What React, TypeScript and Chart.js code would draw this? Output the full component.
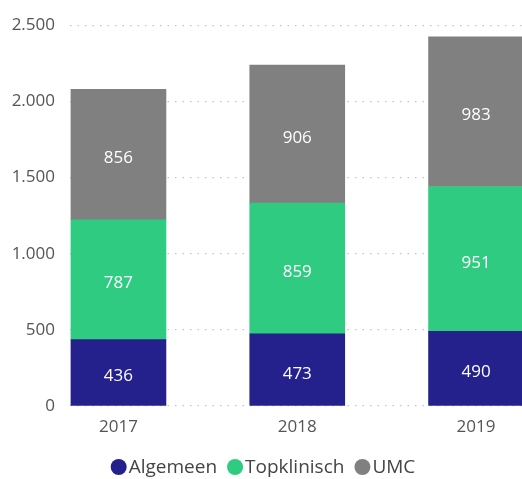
import React, { useEffect, useRef } from "react";
import { Chart, registerables } from "chart.js";

Chart.register(...registerables);

const years = ["2017", "2018", "2019"];
const algemeen = [436, 473, 490];
const topklinisch = [787, 859, 951];
const umc = [856, 906, 983];
const yTicks = [0, 500, 1000, 1500, 2000, 2500];
const seriesNames = ["Algemeen", "Topklinisch", "UMC"];
const seriesColors = ["#24218c", "#2ecb80", "#808080"];

const FONT = "'Open Sans', 'Noto Sans', sans-serif";

const fmt = (v: number) => String(v).replace(/\B(?=(\d{3})+(?!\d))/g, ".");

const valueLabels = {
  id: "valueLabels",
  afterDatasetsDraw(chart: any) {
    const ctx = chart.ctx;
    ctx.save();
    ctx.fillStyle = "#ffffff";
    ctx.font = `17px ${FONT}`;
    ctx.textAlign = "center";
    ctx.textBaseline = "middle";
    chart.data.datasets.forEach((ds: any, di: number) => {
      const meta = chart.getDatasetMeta(di);
      meta.data.forEach((bar: any, i: number) => {
        const v = ds.data[i].y;
        const { x, y, base } = bar.getProps(["x", "y", "base"], true);
        ctx.fillText(String(v), x, (y + base) / 2 + 4);
      });
    });
    ctx.restore();
  },
};

const customLegend = {
  id: "customLegend",
  afterDraw(chart: any) {
    const ctx = chart.ctx;
    ctx.save();
    ctx.font = `19px ${FONT}`;
    ctx.textBaseline = "middle";
    const r = 8;
    const gapText = 2;
    const gapItem = 10;
    const items = chart.data.datasets.map((ds: any) => ({
      label: ds.label,
      color: ds.backgroundColor,
      w: 2 * r + gapText + ctx.measureText(ds.label).width,
    }));
    const total = items.reduce((s: number, it: any) => s + it.w, 0) + gapItem * (items.length - 1);
    let x = chart.width / 2 - total / 2 + 2;
    const cy = 467;
    items.forEach((it: any) => {
      ctx.fillStyle = it.color;
      ctx.beginPath();
      ctx.arc(x + r, cy, r, 0, Math.PI * 2);
      ctx.fill();
      ctx.fillStyle = "#444444";
      ctx.textAlign = "left";
      ctx.fillText(it.label, x + 2 * r + gapText, cy + 1);
      x += it.w + gapItem;
    });
    ctx.restore();
  },
};

export default function App() {
  const ref = useRef<HTMLCanvasElement>(null);
  useEffect(() => {
    if (!ref.current) return;
    const mk = (arr: number[]) => arr.map((v, i) => ({ x: i, y: v }));
    const values = [algemeen, topklinisch, umc];
    const chart = new Chart(ref.current, {
      type: "bar",
      data: {
        datasets: values.map((arr, k) => ({
          label: seriesNames[k],
          data: mk(arr),
          backgroundColor: seriesColors[k],
        })),
      },
      options: {
        responsive: false,
        animation: false,
        devicePixelRatio: 1,
        layout: { padding: { top: 24, right: 0, left: 0, bottom: 39 } },
        datasets: { bar: { barThickness: 95 } } as any,
        scales: {
          x: {
            type: "linear",
            stacked: true,
            offset: false,
            min: -0.271,
            max: 2.257,
            grid: { display: false, offset: false },
            border: { display: false },
            afterBuildTicks: (scale: any) => {
              scale.ticks = years.map((_, i) => ({ value: i }));
            },
            afterFit: (scale: any) => {
              scale.height = 34;
            },
            ticks: {
              padding: 3,
              color: "#555555",
              font: { family: FONT, size: 17 },
              callback: (v: any) => years[Math.round(Number(v))] ?? "",
              maxRotation: 0,
            },
          },
          y: {
            stacked: true,
            min: 0,
            max: 2500,
            afterBuildTicks: (scale: any) => {
              scale.ticks = yTicks.map((v) => ({ value: v }));
            },
            afterFit: (scale: any) => {
              scale.width = 70;
            },
            border: { display: false, dash: [1.5, 6] },
            grid: {
              color: "#c4c4c4",
              lineWidth: 1.2,
              drawTicks: false,
            },
            ticks: {
              padding: 15,
              color: "#555555",
              font: { family: FONT, size: 17 },
              callback: (v: any) => fmt(Number(v)),
            },
          },
        },
        plugins: {
          legend: { display: false },
          tooltip: { enabled: false },
        },
      },
      plugins: [valueLabels, customLegend],
    });
    return () => chart.destroy();
  }, []);
  return (
    <div style={{ position: "fixed", left: 0, top: 0, width: 522, height: 479, background: "#fff" }}>
      <canvas ref={ref} width={522} height={479} style={{ display: "block" }} />
    </div>
  );
}
